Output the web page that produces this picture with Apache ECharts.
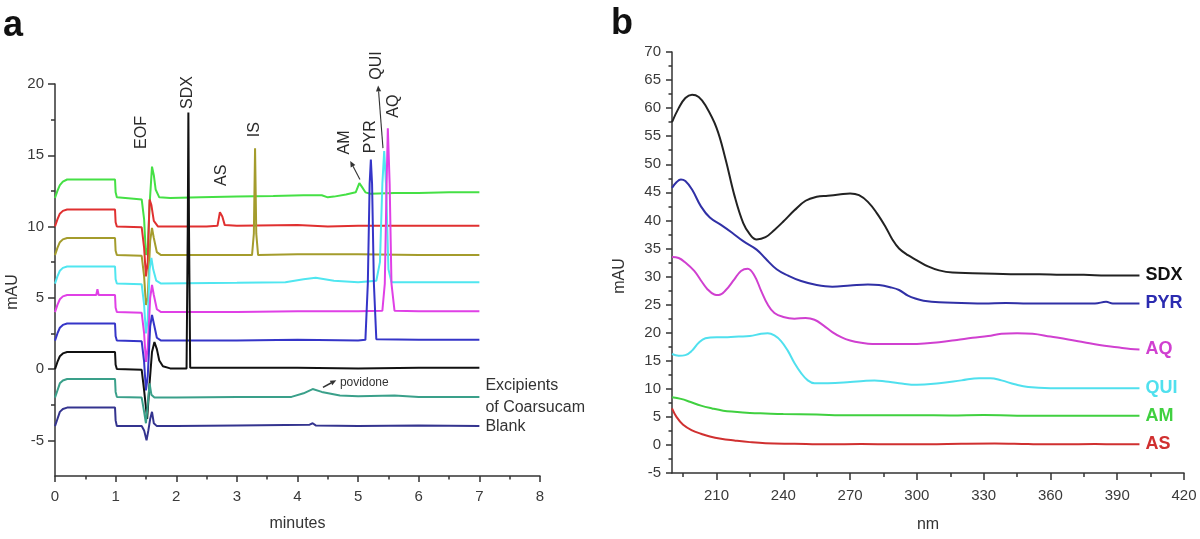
<!DOCTYPE html>
<html><head><meta charset="utf-8">
<script src="https://cdn.jsdelivr.net/npm/echarts@6/dist/echarts.min.js"></script>
<style>html,body{margin:0;padding:0;background:#fff}#c{width:1200px;height:539px}</style>
</head><body><div id="c"></div>
<script>
// ---------- DATA: panel a (electropherograms, minutes vs mAU) ----------
const aGreen = [[0,12.0],[0.04,12.5],[0.08,12.9],[0.13,13.15],[0.2,13.3],[0.6,13.3],[0.99,13.3],[1.0,12.4],[1.02,12.05],[1.3,11.95],[1.43,11.9],[1.47,10.5],[1.5,8.0],[1.53,8.5],[1.56,11.5],[1.6,14.2],[1.63,13.6],[1.66,12.6],[1.72,12.05],[1.9,12.0],[2.4,12.05],[3.0,12.1],[3.6,12.15],[4.1,12.2],[4.4,12.2],[4.5,12.05],[4.6,12.1],[4.8,12.25],[4.96,12.4],[5.02,13.05],[5.06,12.8],[5.12,12.4],[5.2,12.3],[5.6,12.35],[6.0,12.35],[6.5,12.4],[7.0,12.4]];
const aRed = [[0,10.0],[0.04,10.5],[0.08,10.9],[0.13,11.1],[0.2,11.2],[0.99,11.2],[1.0,10.3],[1.02,10.0],[1.43,9.95],[1.47,8.5],[1.5,6.5],[1.53,7.5],[1.56,11.9],[1.59,11.5],[1.63,10.4],[1.7,10.0],[2.5,10.0],[2.68,10.05],[2.72,11.0],[2.76,10.7],[2.8,10.1],[3.0,10.05],[4.0,10.1],[4.5,10.0],[5.0,10.05],[6.0,10.05],[7.0,10.05]];
const aOlive = [[0,8.0],[0.04,8.5],[0.08,8.9],[0.13,9.1],[0.2,9.2],[0.99,9.2],[1.0,8.3],[1.02,8.0],[1.43,7.95],[1.47,6.5],[1.5,4.5],[1.53,5.0],[1.57,9.0],[1.6,9.9],[1.63,9.2],[1.68,8.2],[1.75,8.0],[3.25,8.0],[3.28,9.5],[3.3,15.5],[3.32,9.5],[3.35,8.0],[4.0,8.05],[5.0,8.05],[6.0,8.0],[7.0,8.0]];
const aCyan = [[0,6.0],[0.04,6.5],[0.08,6.9],[0.13,7.1],[0.2,7.2],[0.99,7.2],[1.0,6.3],[1.02,6.0],[1.43,5.95],[1.47,4.5],[1.5,2.5],[1.53,3.5],[1.56,7.0],[1.59,7.8],[1.62,7.0],[1.67,6.2],[1.75,6.0],[3.0,6.05],[3.8,6.1],[4.1,6.3],[4.3,6.4],[4.6,6.2],[5.0,6.1],[5.3,6.2],[5.36,7.5],[5.4,13.0],[5.43,15.3],[5.46,13.0],[5.5,7.0],[5.55,6.1],[6.0,6.1],[7.0,6.1]];
const aMagenta = [[0,4.0],[0.04,4.5],[0.08,4.9],[0.13,5.1],[0.2,5.2],[0.68,5.2],[0.7,5.6],[0.72,5.2],[0.99,5.2],[1.0,4.3],[1.02,4.0],[1.43,3.95],[1.47,2.5],[1.5,0.5],[1.53,1.5],[1.57,5.0],[1.6,5.9],[1.63,5.2],[1.68,4.2],[1.75,4.0],[3.0,4.0],[4.0,4.05],[5.0,4.05],[5.4,4.1],[5.44,6.0],[5.47,13.0],[5.49,16.9],[5.52,13.0],[5.55,6.0],[5.6,4.1],[6.0,4.05],[7.0,4.05]];
const aBlue = [[0,2.0],[0.04,2.5],[0.08,2.9],[0.13,3.1],[0.2,3.2],[0.99,3.2],[1.0,2.3],[1.02,2.0],[1.43,1.95],[1.47,0.5],[1.5,-1.5],[1.53,-0.5],[1.57,3.0],[1.6,3.8],[1.63,3.2],[1.68,2.2],[1.75,2.0],[3.0,2.0],[4.0,2.05],[5.0,2.0],[5.12,2.05],[5.16,6.0],[5.19,13.0],[5.21,14.7],[5.23,13.0],[5.26,6.0],[5.3,2.1],[6.0,2.05],[7.0,2.05]];
const aBlack = [[0,0],[0.04,0.5],[0.08,0.9],[0.13,1.1],[0.2,1.2],[0.99,1.2],[1.0,0.3],[1.02,0.0],[1.43,-0.05],[1.47,-1.5],[1.52,-3.5],[1.56,-1.0],[1.6,1.2],[1.64,1.9],[1.68,1.4],[1.72,0.6],[1.78,0.2],[1.9,0.05],[2.17,0.05],[2.19,10],[2.2,18.0],[2.21,10],[2.23,0.1],[3.0,0.1],[4.0,0.1],[5.0,0.05],[6.0,0.1],[7.0,0.1]];
const aTeal = [[0,-2.0],[0.04,-1.5],[0.08,-1.0],[0.13,-0.8],[0.2,-0.7],[0.99,-0.7],[1.0,-1.6],[1.02,-1.95],[1.43,-2.0],[1.47,-3.0],[1.5,-3.8],[1.53,-2.5],[1.56,-1.0],[1.59,-1.8],[1.64,-2.0],[2.0,-2.0],[3.0,-1.95],[3.9,-1.95],[4.1,-1.7],[4.25,-1.4],[4.4,-1.6],[4.7,-1.85],[5.0,-1.9],[5.6,-1.85],[6.0,-1.95],[7.0,-1.95]];
const aNavy = [[0,-4.0],[0.04,-3.5],[0.08,-3.0],[0.13,-2.8],[0.2,-2.7],[0.99,-2.7],[1.0,-3.6],[1.02,-4.0],[1.43,-4.0],[1.47,-4.3],[1.51,-5.0],[1.54,-4.3],[1.57,-3.5],[1.6,-3.0],[1.63,-3.8],[1.68,-4.0],[2.0,-4.0],[3.0,-3.95],[4.2,-3.9],[4.25,-3.8],[4.3,-3.95],[5.0,-4.0],[6.0,-3.95],[7.0,-4.0]];
const aTraceLabels = ['Excipients\nof Coarsucam', 'Blank'];
const aPeakNames = ['EOF','SDX','AS','IS','AM','PYR','QUI','AQ'];
const aXTicks = [0,1,2,3,4,5,6,7,8];
const aYTicks = [-5,0,5,10,15,20];
const aYMinor = [-2.5,2.5,7.5,12.5,17.5];

// ---------- DATA: panel b (UV spectra, nm vs mAU) ----------
const bSDX = [[190,57.5],[193,60],[196,61.8],[199,62.4],[202,62],[205,60.5],[210,56.5],[214,51],[218,44.5],[222,39.5],[225,37.5],[228,36.6],[232,37],[236,38.3],[240,39.8],[245,41.8],[250,43.5],[255,44.2],[260,44.4],[265,44.6],[270,44.8],[274,44.5],[278,43.3],[282,41.3],[286,38.8],[289,36.6],[292,35.0],[296,33.8],[300,32.9],[305,31.8],[310,31.1],[316,30.7],[325,30.6],[335,30.5],[345,30.4],[355,30.4],[365,30.3],[375,30.3],[385,30.2],[392,30.2],[400,30.2]];
const bPYR = [[190,45.8],[192,46.8],[194,47.3],[196,47.0],[199,45.5],[203,42.5],[207,40.5],[212,39.2],[217,37.8],[222,36.3],[228,34.8],[232,33.2],[237,31.3],[242,30.2],[248,29.2],[255,28.5],[262,28.2],[270,28.4],[278,28.6],[283,28.5],[288,28.1],[292,27.6],[296,26.6],[300,26.0],[303,25.7],[310,25.4],[320,25.3],[330,25.2],[340,25.3],[350,25.2],[360,25.2],[370,25.2],[380,25.2],[385,25.5],[388,25.2],[400,25.2]];
const bAQ = [[190,33.5],[193,33.3],[196,32.5],[200,31],[203,29.3],[206,27.7],[209,26.8],[211,26.7],[214,27.5],[218,29.5],[221,31],[224,31.4],[227,30.2],[230,27.5],[233,25],[236,23.5],[240,22.8],[245,22.5],[250,22.6],[254,22.3],[258,21.3],[262,20.1],[266,19.2],[270,18.6],[275,18.2],[280,18.0],[290,18.0],[300,18.0],[310,18.3],[318,18.7],[325,19.1],[332,19.4],[338,19.8],[345,19.9],[352,19.8],[360,19.3],[368,18.8],[375,18.3],[382,17.8],[390,17.4],[396,17.1],[400,17.0]];
const bQUI = [[190,16.2],[193,15.9],[196,16.0],[199,16.8],[202,18.2],[205,19.0],[210,19.2],[215,19.2],[220,19.3],[225,19.4],[230,19.8],[233,19.9],[236,19.5],[239,18.5],[242,16.8],[245,14.6],[248,12.8],[251,11.5],[254,11.0],[260,11.0],[270,11.2],[276,11.4],[281,11.5],[286,11.3],[292,11.0],[300,10.7],[310,11.0],[320,11.5],[328,11.9],[333,11.9],[338,11.5],[344,10.8],[350,10.3],[360,10.1],[370,10.1],[380,10.1],[390,10.1],[400,10.1]];
const bAM = [[190,8.5],[194,8.2],[198,7.7],[203,7.0],[208,6.5],[213,6.1],[218,5.9],[225,5.7],[232,5.6],[240,5.5],[255,5.4],[270,5.3],[285,5.3],[300,5.3],[315,5.25],[330,5.35],[345,5.2],[360,5.2],[375,5.2],[390,5.2],[400,5.2]];
const bAS = [[190,6.5],[192,5.0],[195,3.6],[199,2.6],[203,2.0],[207,1.5],[212,1.1],[218,0.8],[225,0.5],[232,0.3],[245,0.2],[260,0.1],[275,0.15],[290,0.1],[305,0.1],[320,0.2],[335,0.25],[350,0.15],[365,0.1],[380,0.15],[390,0.1],[400,0.1]];
const bNames = ['SDX','PYR','AQ','QUI','AM','AS'];
const bXTicks = [210,240,270,300,330,360,390,420];
const bXMinor = [195,225,255,285,315,345,375,405];

// ---------- CHART ----------
const FONT = '"Liberation Sans", Arial, sans-serif';
const AX = '#333';
const chart = echarts.init(document.getElementById('c'), null, {renderer:'canvas'});

function lineS(data, color, xi, yi, extra) {
  return Object.assign({
    type:'line', data, xAxisIndex:xi, yAxisIndex:yi, showSymbol:false, symbol:'none',
    lineStyle:{color, width:2}, itemStyle:{color}, animation:false, z:2
  }, extra || {});
}
const axLine = {onZero:false, lineStyle:{color:AX, width:1.5}};
const tickStyle = {color:AX, width:1.5};
const lblStyle = {fontSize:15, color:'#3a3a3a', fontFamily:FONT};

const aColors = ['#45e045','#e03030','#a49c2c','#50e6f0','#e040e6','#3535c8','#111111','#3aa08a','#34348f'];
const aData = [aGreen,aRed,aOlive,aCyan,aMagenta,aBlue,aBlack,aTeal,aNavy];
const series = [];
aData.forEach((d,i) => {
  let extra = {};
  if (i === 7 || i === 8) {
    extra.endLabel = {show:true, formatter: aTraceLabels[i-7], color:'#333', fontSize:16, lineHeight:22, fontFamily:FONT, distance:6};
  }
  series.push(lineS(d, aColors[i], 0, 0, extra));
});
const bColors = ['#222222','#3030a6','#d040d0','#50e0ee','#40d040','#d03030'];
const bLabelColors = ['#111111','#2b2bb0','#d040d0','#50e0ee','#40d040','#d03030'];
[bSDX,bPYR,bAQ,bQUI,bAM,bAS].forEach((d,i) => {
  series.push(lineS(d, bColors[i], 1, 2, {
    smooth:0.4,
    endLabel:{show:true, formatter:bNames[i], color:bLabelColors[i], fontSize:18, fontWeight:'bold', fontFamily:FONT, distance:6}
  }));
});

const option = {
  backgroundColor:'#fff',
  animation:false,
  textStyle:{fontFamily:FONT},
  grid:[
    {left:55, top:84, width:485, height:392},
    {left:672, top:52, width:512, height:421}
  ],
  xAxis:[
    {gridIndex:0, type:'value', position:'bottom', min:aXTicks[0], max:aXTicks[aXTicks.length-1], interval:1,
     axisLine:axLine, axisTick:{length:6, lineStyle:tickStyle},
     minorTick:{show:true, splitNumber:2, length:3.5, lineStyle:tickStyle},
     axisLabel:Object.assign({margin:13}, lblStyle), splitLine:{show:false}, minorSplitLine:{show:false},
     name:'minutes', nameLocation:'middle', nameGap:40, nameTextStyle:{fontSize:16, color:'#333', fontFamily:FONT}},
    {gridIndex:1, type:'value', position:'bottom', min:190, max:420,
     axisLine:axLine, axisTick:{customValues:bXTicks, length:7, lineStyle:tickStyle},
     axisLabel:Object.assign({customValues:bXTicks, margin:15}, lblStyle), splitLine:{show:false},
     name:'nm', nameLocation:'middle', nameGap:44, nameTextStyle:{fontSize:16, color:'#333', fontFamily:FONT}},
    {gridIndex:1, type:'value', position:'bottom', min:190, max:420,
     axisLine:{show:false, onZero:false}, axisTick:{customValues:bXMinor, length:4, lineStyle:tickStyle},
     axisLabel:{show:false}, splitLine:{show:false}}
  ],
  yAxis:[
    {gridIndex:0, type:'value', position:'left', min:-7.5, max:20,
     axisLine:axLine, axisTick:{customValues:aYTicks, length:7, lineStyle:tickStyle},
     axisLabel:Object.assign({customValues:aYTicks, margin:11}, lblStyle), splitLine:{show:false}},
    {gridIndex:0, type:'value', position:'left', min:-7.5, max:20,
     axisLine:{show:false, onZero:false}, axisTick:{customValues:aYMinor, length:4, lineStyle:tickStyle},
     axisLabel:{show:false}, splitLine:{show:false}},
    {gridIndex:1, type:'value', position:'left', min:-5, max:70, interval:5,
     axisLine:axLine, axisTick:{length:6, lineStyle:tickStyle},
     minorTick:{show:true, splitNumber:2, length:3.5, lineStyle:tickStyle},
     axisLabel:Object.assign({margin:11}, lblStyle), splitLine:{show:false}, minorSplitLine:{show:false}}
  ],
  series
};
chart.setOption(option);

// ---------- annotations anchored to data coordinates ----------
function px(t, v) { return chart.convertToPixel({xAxisIndex:0, yAxisIndex:0}, [t, v]); }
function arrow(p0, p1, color, lw) {
  const dx = p1[0]-p0[0], dy = p1[1]-p0[1], L = Math.hypot(dx,dy), ux = dx/L, uy = dy/L;
  const hl = 6, hw = 2.6;
  const base = [p1[0]-ux*hl, p1[1]-uy*hl];
  return [
    {type:'line', shape:{x1:p0[0], y1:p0[1], x2:base[0], y2:base[1]}, style:{stroke:color, lineWidth:lw}},
    {type:'polygon', shape:{points:[p1, [base[0]-uy*hw, base[1]+ux*hw], [base[0]+uy*hw, base[1]-ux*hw]]}, style:{fill:color}}
  ];
}
const peakPos = {EOF:[1.435,16.6], SDX:[2.195,19.4], AS:[2.756,13.6], IS:[3.30,16.8], AM:[4.785,15.9], PYR:[5.198,16.3], QUI:[5.30,21.3], AQ:[5.577,18.45]};
const g = [];
aPeakNames.forEach(n => {
  const p = px(peakPos[n][0], peakPos[n][1]);
  g.push({type:'text', x:p[0], y:p[1], rotation:Math.PI/2,
    style:{text:n, font:'16px ' + FONT, fill:'#2a2a2a', align:'center', verticalAlign:'middle'}});
});
g.push(...arrow(px(5.03,13.3), px(4.87,14.6), '#333', 1.1));
g.push(...arrow(px(5.41,15.5), px(5.33,19.9), '#333', 1.1));
g.push(...arrow(px(4.42,-1.28), px(4.64,-0.78), '#333', 1.6));
const pv = px(4.70,-0.95);
g.push({type:'text', x:pv[0], y:pv[1], style:{text:'povidone', font:'12px ' + FONT, fill:'#333', align:'left', verticalAlign:'middle'}});
// panel letters and y-axis names
g.push({type:'text', x:3, y:26, style:{text:'a', font:'bold 36px ' + FONT, fill:'#111', align:'left', verticalAlign:'middle'}});
g.push({type:'text', x:611, y:24, style:{text:'b', font:'bold 36px ' + FONT, fill:'#111', align:'left', verticalAlign:'middle'}});
g.push({type:'text', x:13, y:292, rotation:Math.PI/2, style:{text:'mAU', font:'16px ' + FONT, fill:'#333', align:'center', verticalAlign:'middle'}});
g.push({type:'text', x:620, y:276, rotation:Math.PI/2, style:{text:'mAU', font:'16px ' + FONT, fill:'#333', align:'center', verticalAlign:'middle'}});
chart.setOption({graphic:{elements:g}});
</script>
</body></html>
